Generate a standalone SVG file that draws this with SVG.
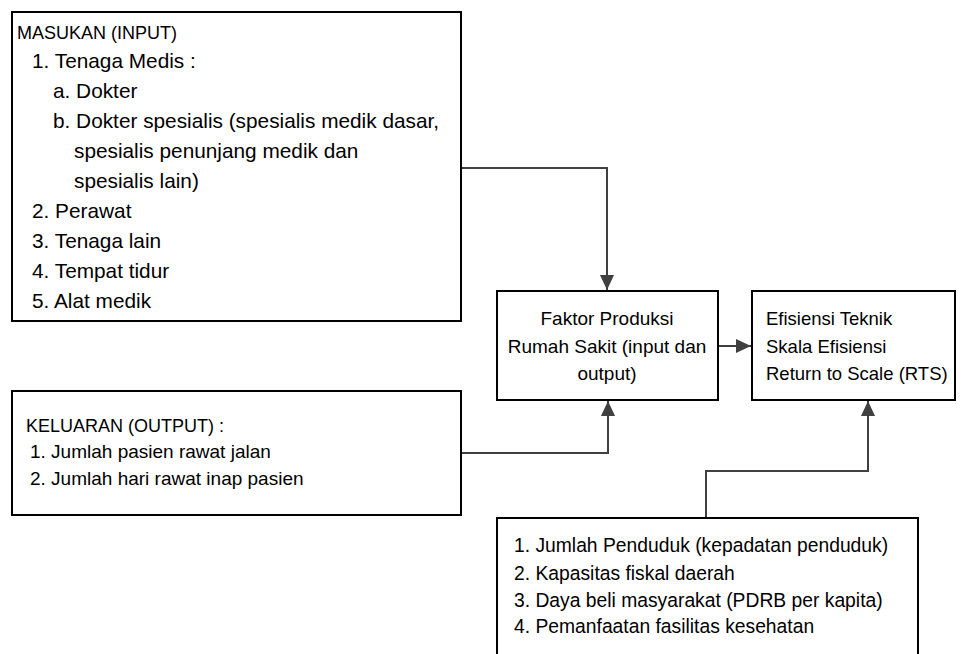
<svg xmlns="http://www.w3.org/2000/svg" width="970" height="654" viewBox="0 0 970 654">
<defs>
<style>
.box{fill:#fff;stroke:#000;stroke-width:2}
.t{font-family:"Liberation Sans",Arial,sans-serif;fill:#000}
.s1{font-size:20.8px}
.s2{font-size:19px}
.s4{font-size:19.3px}
.s3{font-size:18.5px}
.h{font-size:18px}
.con{fill:none;stroke:#404040;stroke-width:2}
</style>
<marker id="arr" markerUnits="userSpaceOnUse" markerWidth="15" markerHeight="15" viewBox="0 0 15 15" refX="15" refY="7.5" orient="auto">
<path d="M0,0.5 L15,7.5 L0,14.5 Z" fill="#404040"/>
</marker>
</defs>
<rect width="970" height="654" fill="#fff"/>
<g id="connectors">
<path class="con" d="M461,168 H607 V290" marker-end="url(#arr)"/>
<path class="con" d="M461,453 H608 V401" marker-end="url(#arr)"/>
<path class="con" d="M718,346 H751" marker-end="url(#arr)"/>
<path class="con" d="M706,518 V471 H868 V401" marker-end="url(#arr)"/>
</g>
<g id="input">
<rect class="box" x="12" y="12" width="449" height="309"/>
<text class="t h" x="17" y="39">MASUKAN (INPUT)</text>
<text class="t s1" x="32" y="68">1. Tenaga Medis :</text>
<text class="t s1" x="53" y="98">a. Dokter</text>
<text class="t s1" x="53" y="128">b. Dokter spesialis (spesialis medik dasar,</text>
<text class="t s1" x="74" y="158">spesialis penunjang medik dan</text>
<text class="t s1" x="74" y="188">spesialis lain)</text>
<text class="t s1" x="32" y="218">2. Perawat</text>
<text class="t s1" x="32" y="248">3. Tenaga lain</text>
<text class="t s1" x="32" y="278">4. Tempat tidur</text>
<text class="t s1" x="32" y="308">5. Alat medik</text>
</g>
<g id="output">
<rect class="box" x="12" y="391" width="449" height="124"/>
<text class="t h" x="26" y="432">KELUARAN (OUTPUT) :</text>
<text class="t s2" x="30" y="458">1. Jumlah pasien rawat jalan</text>
<text class="t s2" x="30" y="485">2. Jumlah hari rawat inap pasien</text>
</g>
<g id="faktor">
<rect class="box" x="497" y="291" width="221" height="109"/>
<text class="t s2" x="607" y="325" text-anchor="middle">Faktor Produksi</text>
<text class="t s2" x="607" y="353" text-anchor="middle">Rumah Sakit (input dan</text>
<text class="t s2" x="607" y="380" text-anchor="middle">output)</text>
</g>
<g id="efisiensi">
<rect class="box" x="752" y="291" width="203" height="109"/>
<text class="t s3" x="766" y="325">Efisiensi Teknik</text>
<text class="t s3" x="766" y="353">Skala Efisiensi</text>
<text class="t s3" x="766" y="380">Return to Scale (RTS)</text>
</g>
<g id="faktor-lain">
<rect class="box" x="497" y="518" width="421" height="145"/>
<text class="t s4" x="514" y="552">1. Jumlah Penduduk (kepadatan penduduk)</text>
<text class="t s4" x="514" y="580">2. Kapasitas fiskal daerah</text>
<text class="t s4" x="514" y="607">3. Daya beli masyarakat (PDRB per kapita)</text>
<text class="t s4" x="514" y="633">4. Pemanfaatan fasilitas kesehatan</text>
</g>
</svg>
